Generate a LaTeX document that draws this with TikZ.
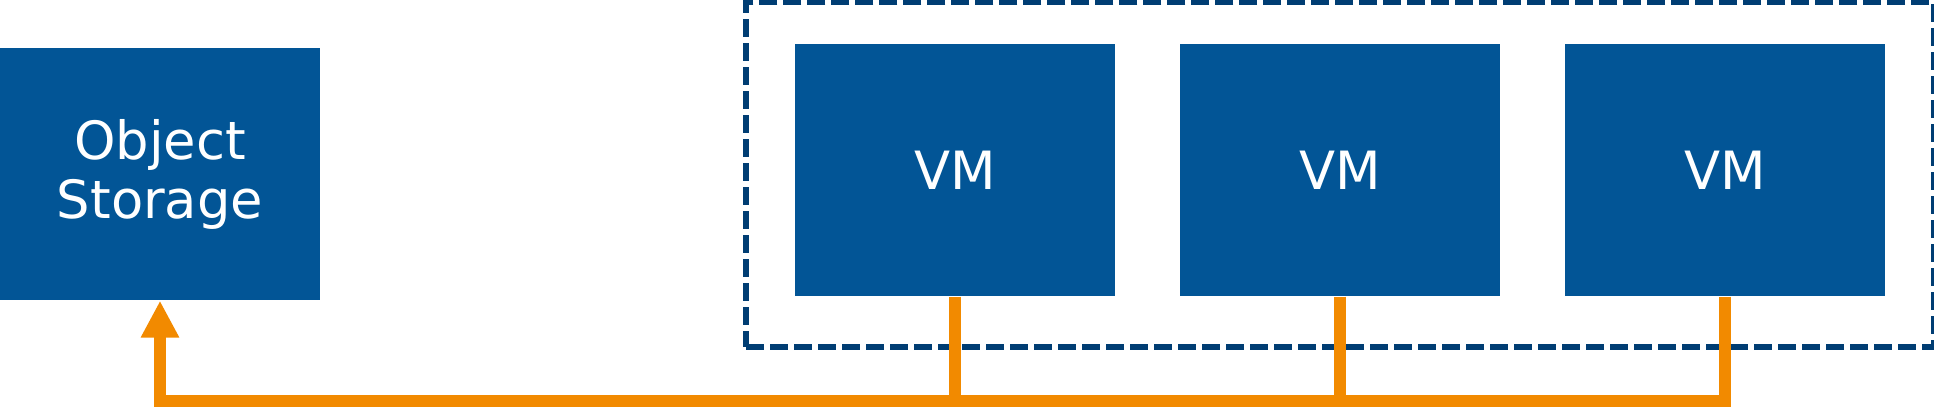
\documentclass[tikz,border=0pt]{standalone}
\usepackage{fontspec}
\setmainfont{DejaVu Sans}
\usepackage{tikz}
\usetikzlibrary{arrows.meta,fit,positioning}

\definecolor{boxblue}{HTML}{025596}
\definecolor{frameblue}{HTML}{003D73}
\definecolor{feedorange}{HTML}{F28A00}

\begin{document}
\begin{tikzpicture}[node distance=0.635cm,
						block/.style={rectangle,fill=boxblue,text=white,align=center,minimum width=3.2cm,minimum height=2.52cm,inner sep=0pt,font=\fontsize{15}{16.8}\selectfont},
						feed/.style={draw=feedorange,line width=0.12cm},
						group/.style={draw=frameblue,line width=0.06cm,dash pattern=on 0.18cm off 0.06cm}]
		\useasboundingbox (0,0) rectangle (19.34,4.08);
		\node[block] (store) at (1.6,2.34) {Object\\Storage};
		\node[block] (vma) at (9.55,2.38) {VM};
		\node[block,right=of vma] (vmb) {VM};
		\node[block,right=of vmb] (vmc) {VM};
		\node[group,fit=(vma) (vmb) (vmc),inner xsep=0.48cm,inner ysep=0.455cm,yshift=-0.045cm] (cluster) {};
		\coordinate (bus) at (0,0.07);

		\draw[feed,-{Triangle[width=0.36cm,length=0.37cm]}] (vmc.south) |- (store.south |- bus) -- (store.south);
		\draw[feed] (vma.south) -- (vma.south |- bus);
		\draw[feed] (vmb.south) -- (vmb.south |- bus);
	\end{tikzpicture}
\end{document}
